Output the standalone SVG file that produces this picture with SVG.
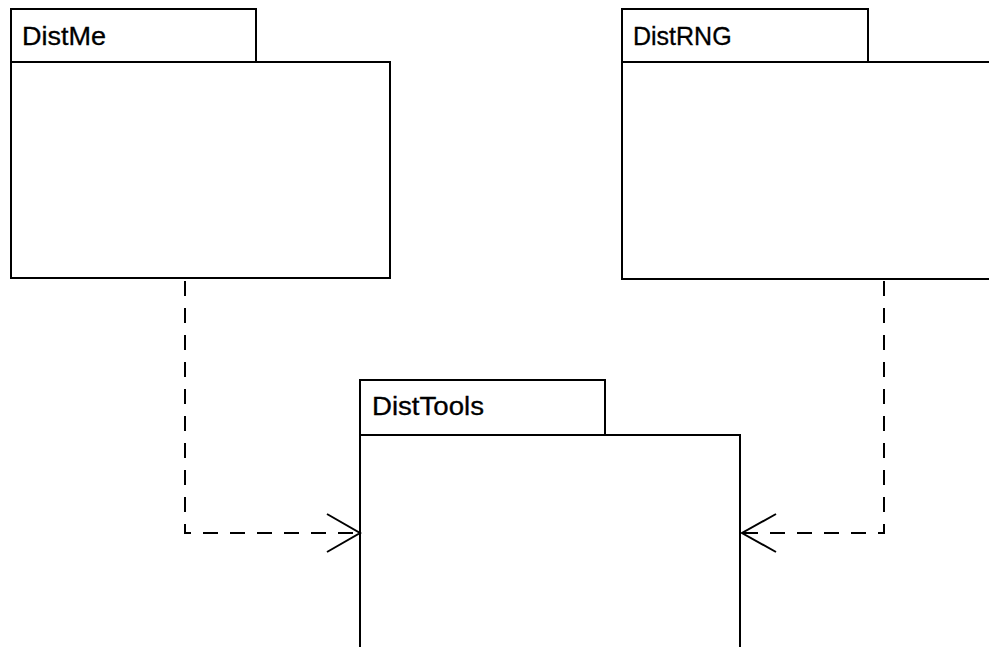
<svg xmlns="http://www.w3.org/2000/svg" width="989" height="647" viewBox="0 0 989 647">
<style>
.box{fill:#fff;stroke:#000;stroke-width:2}
.lbl{font-family:"Liberation Sans",Arial,sans-serif;font-size:25px;fill:#000;stroke:#000;stroke-width:0.3}
.dep{fill:none;stroke:#000;stroke-width:2;stroke-dasharray:15 12}
.head{fill:none;stroke:#000;stroke-width:2}
</style>
<rect width="989" height="647" fill="#fff"/>
<g id="DistMe">
<rect class="box" x="11" y="9" width="245" height="53"/>
<rect class="box" x="11" y="62" width="379" height="216"/>
<text class="lbl" x="22" y="44.5" textLength="84" lengthAdjust="spacingAndGlyphs">DistMe</text>
</g>
<g id="DistRNG">
<rect class="box" x="622" y="9" width="246" height="53"/>
<rect class="box" x="622" y="62" width="380" height="217"/>
<text class="lbl" x="633" y="44.5">DistRNG</text>
</g>
<g id="DistTools">
<rect class="box" x="360" y="380" width="245" height="55"/>
<rect class="box" x="360" y="435" width="380" height="230"/>
<text class="lbl" x="372" y="415" textLength="112" lengthAdjust="spacingAndGlyphs">DistTools</text>
</g>
<g id="connectors">
<path class="dep" d="M185,281 V533 H358"/>
<path class="head" d="M327,514 L360,533 L327,552"/>
<path class="dep" d="M884,281 V533 H743"/>
<path class="head" d="M776,514 L742,533 L776,552"/>
</g>
</svg>
